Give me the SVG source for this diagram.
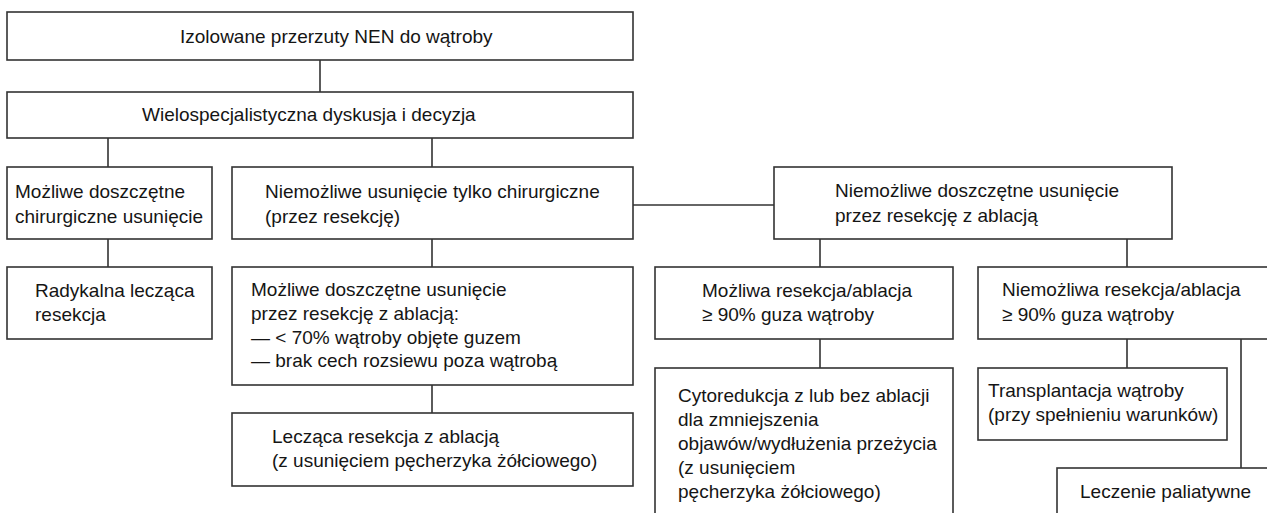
<svg xmlns="http://www.w3.org/2000/svg" width="1267" height="513" viewBox="0 0 1267 513">
<style>
.box{fill:#fff;stroke:#333;stroke-width:1.6}
.ln{fill:none;stroke:#333;stroke-width:1.6}
text{font-family:"Liberation Sans",Arial,sans-serif;font-size:19px;fill:#151515}
</style>
<rect x="0" y="0" width="1267" height="513" fill="#fff"/>
<g id="connectors">
<path class="ln" d="M320 60V92"/>
<path class="ln" d="M108 138V167M432 138V167"/>
<path class="ln" d="M633 205H774"/>
<path class="ln" d="M108 239V267M432 239V267"/>
<path class="ln" d="M820 239V267M1127 239V267"/>
<path class="ln" d="M432 385V413"/>
<path class="ln" d="M820 339V368"/>
<path class="ln" d="M1127 339V368M1241 339V468"/>
</g>
<g id="n1"><rect class="box" x="7" y="12" width="626" height="48"/><text x="180" y="43">Izolowane przerzuty NEN do wątroby</text></g>
<g id="n2"><rect class="box" x="7" y="92" width="626" height="46"/><text x="142" y="121">Wielospecjalistyczna dyskusja i decyzja</text></g>
<g id="n3"><rect class="box" x="7" y="167" width="205" height="72"/><text x="15" y="198">Możliwe doszczętne</text><text x="15" y="223">chirurgiczne usunięcie</text></g>
<g id="n4"><rect class="box" x="232" y="167" width="401" height="72"/><text x="265" y="198">Niemożliwe usunięcie tylko chirurgiczne</text><text x="265" y="223">(przez resekcję)</text></g>
<g id="n5"><rect class="box" x="774" y="167" width="398" height="72"/><text x="835" y="197">Niemożliwe doszczętne usunięcie</text><text x="835" y="222">przez resekcję z ablacją</text></g>
<g id="n6"><rect class="box" x="7" y="267" width="205" height="72"/><text x="35" y="297">Radykalna lecząca</text><text x="35" y="321">resekcja</text></g>
<g id="n7"><rect class="box" x="232" y="267" width="401" height="118"/><text x="251" y="296">Możliwe doszczętne usunięcie</text><text x="251" y="320">przez resekcję z ablacją:</text><text x="251" y="344">— &lt; 70% wątroby objęte guzem</text><text x="251" y="367">— brak cech rozsiewu poza wątrobą</text></g>
<g id="n8"><rect class="box" x="232" y="413" width="401" height="73"/><text x="272" y="443">Lecząca resekcja z ablacją</text><text x="272" y="467">(z usunięciem pęcherzyka żółciowego)</text></g>
<g id="n9"><rect class="box" x="655" y="267" width="298" height="72"/><text x="702" y="297">Możliwa resekcja/ablacja</text><text x="702" y="321">≥ 90% guza wątroby</text></g>
<g id="n10"><rect class="box" x="978" y="267" width="300" height="72"/><text x="1002" y="296">Niemożliwa resekcja/ablacja</text><text x="1002" y="321">≥ 90% guza wątroby</text></g>
<g id="n11"><rect class="box" x="655" y="368" width="298" height="170"/><text x="678" y="402">Cytoredukcja z lub bez ablacji</text><text x="678" y="426">dla zmniejszenia</text><text x="678" y="450">objawów/wydłużenia przeżycia</text><text x="678" y="474">(z usunięciem</text><text x="678" y="498">pęcherzyka żółciowego)</text></g>
<g id="n12"><rect class="box" x="978" y="368" width="249" height="72"/><text x="988" y="397">Transplantacja wątroby</text><text x="988" y="421">(przy spełnieniu warunków)</text></g>
<g id="n13"><rect class="box" x="1057" y="468" width="230" height="80"/><text x="1080" y="498">Leczenie paliatywne</text></g>
</svg>
